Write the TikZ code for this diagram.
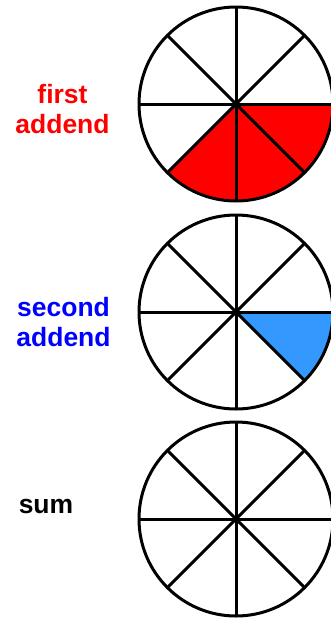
\documentclass[tikz,border=0pt]{standalone}
\usepackage{fontspec}
\setmainfont{Liberation Sans}
\definecolor{addred}{HTML}{FF0000}
\definecolor{addblue}{HTML}{0000FF}
\definecolor{sectblue}{HTML}{3399FF}
\begin{document}
\begin{tikzpicture}[x=1pt,y=-1pt,
  spoke/.style={line width=3pt,black},
  rim/.style={line width=3pt,black},
  lab/.style={font=\fontsize{26.5}{29.5}\selectfont\bfseries,align=center,anchor=base,inner sep=0pt}]
\useasboundingbox (0,0) rectangle (331,622);
\clip (0,0) rectangle (331,622);
\newcommand\fracpie[4]{% center x, y, number of filled eighths, colour
  \fill[white] (#1,#2) circle[radius=97];
  \ifnum#3>0
    \fill[#4] (#1,#2) -- ++(97,0) arc[start angle=0,end angle=#3*45,radius=97] -- cycle;
  \fi
  \foreach \a in {0,45,...,135}
    \draw[spoke] (#1,#2) ++(\a:97) -- ++(\a+180:194);
  \draw[rim] (#1,#2) circle[radius=97];
}
\fracpie{236}{104}{3}{addred}
\fracpie{236}{312}{1}{sectblue}
\fracpie{236}{519}{0}{white}
\node[lab,text=addred] (first) at (62.5,133) {first\\addend};
\node[lab,text=addblue] (second) at (63.5,346) {second\\addend};
\node[lab,text=black] (sum) at (46,513) {sum};
\end{tikzpicture}
\end{document}
